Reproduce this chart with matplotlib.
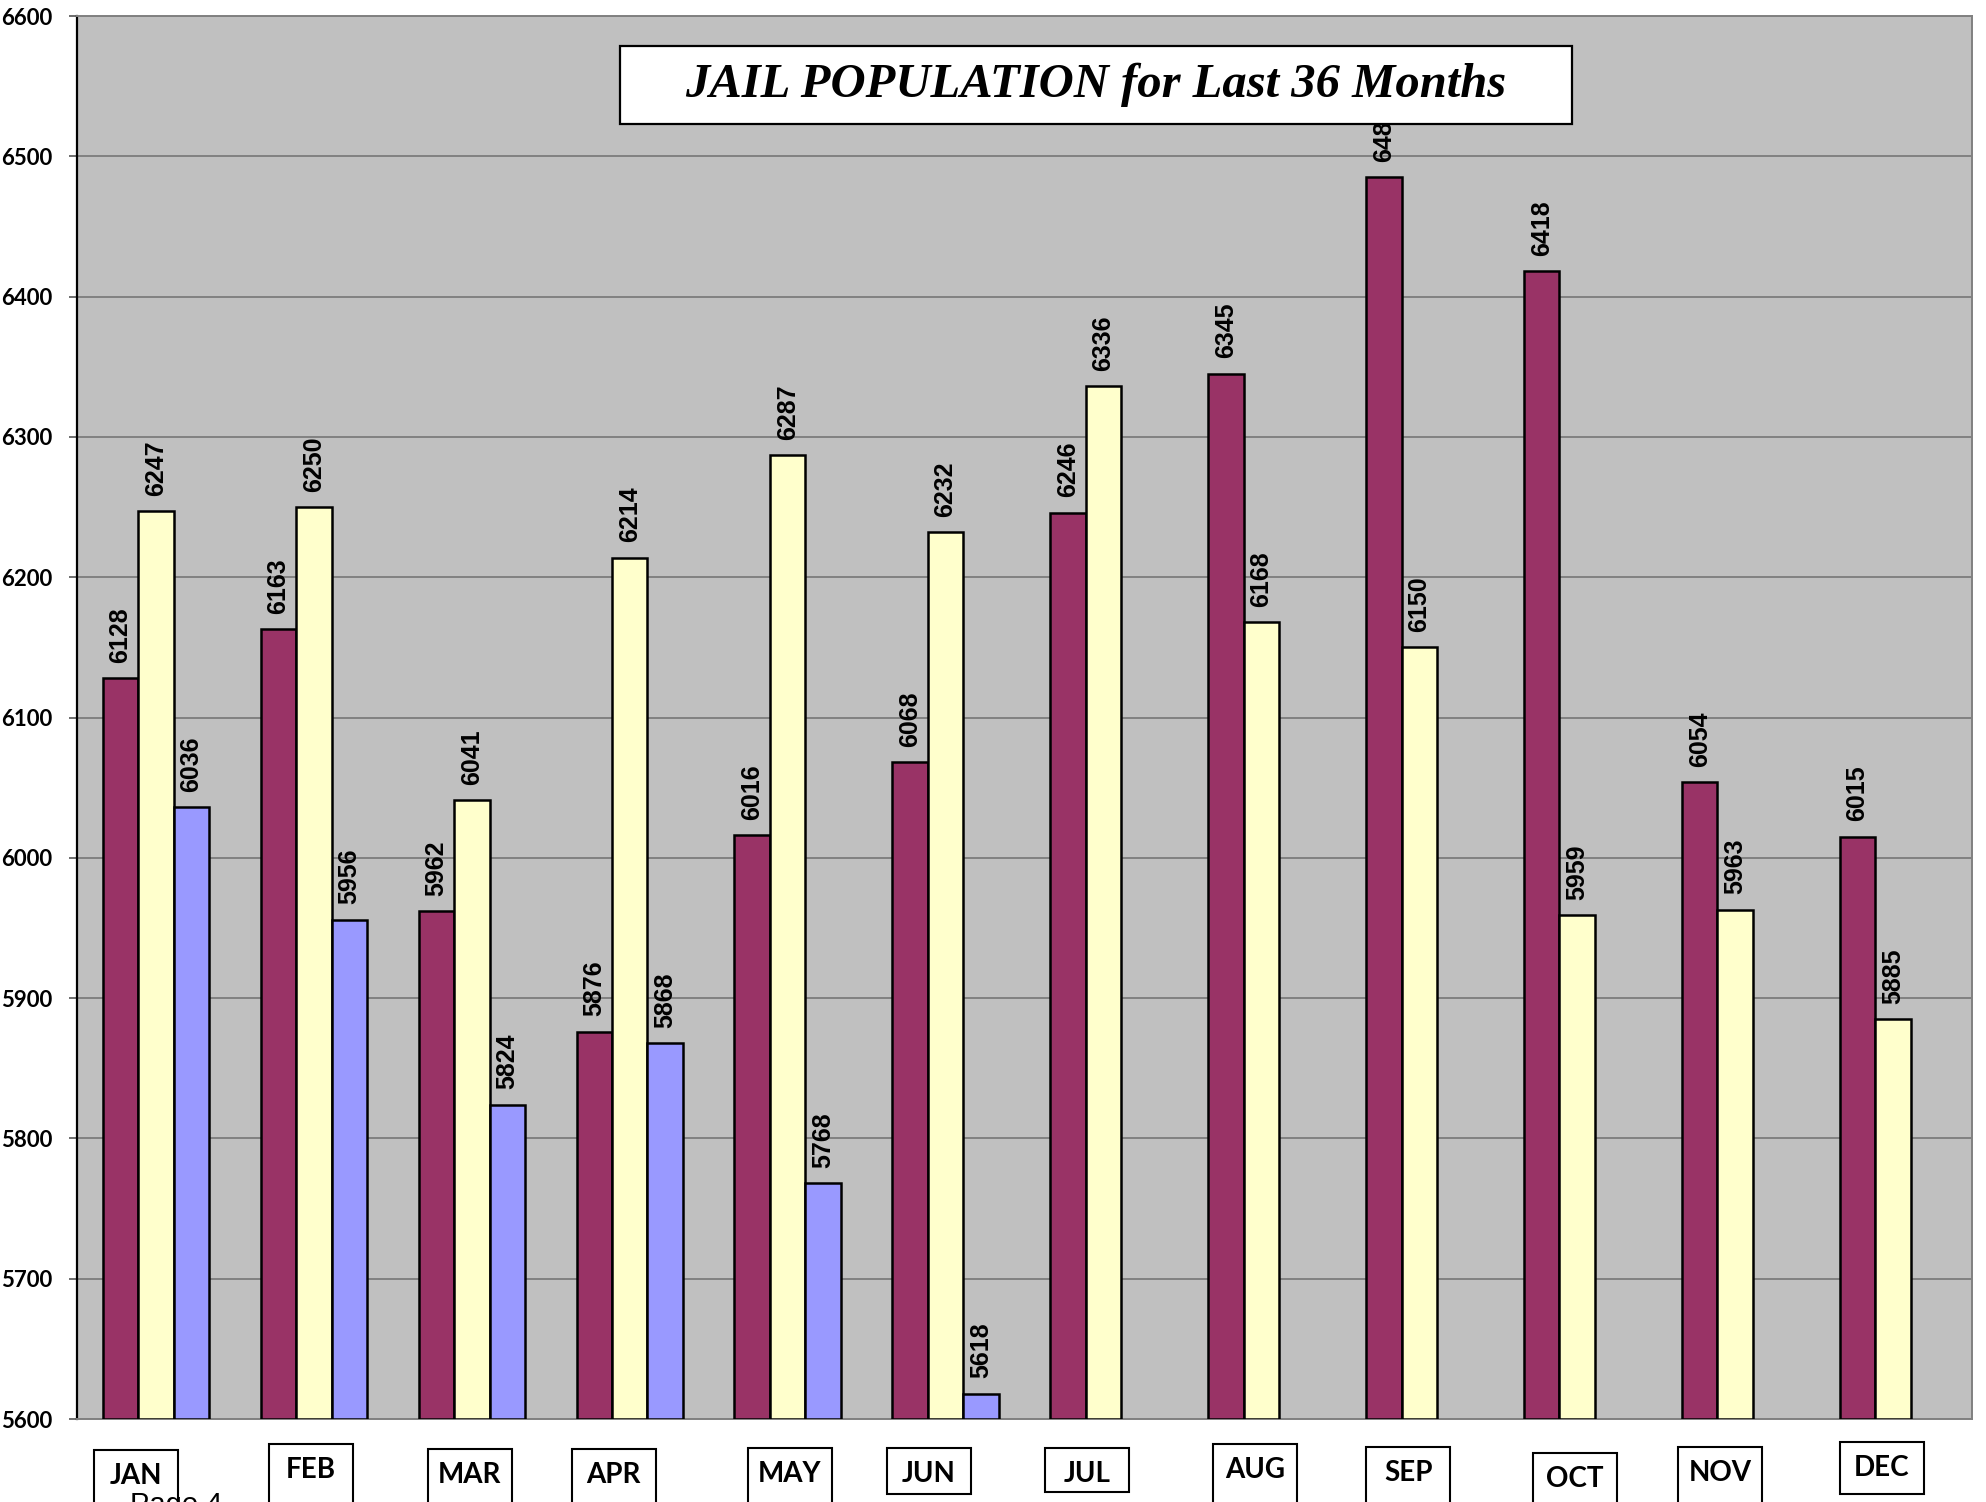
import numpy as np
import matplotlib
matplotlib.use('Agg')
import matplotlib.pyplot as plt
from matplotlib.patches import Rectangle
from matplotlib.transforms import blended_transform_factory

months = ['JAN', 'FEB', 'MAR', 'APR', 'MAY', 'JUN', 'JUL', 'AUG', 'SEP', 'OCT', 'NOV', 'DEC']
year1 = [6128, 6163, 5962, 5876, 6016, 6068, 6246, 6345, 6485, 6418, 6054, 6015]
year2 = [6247, 6250, 6041, 6214, 6287, 6232, 6336, 6168, 6150, 5959, 5963, 5885]
year3 = [6036, 5956, 5824, 5868, 5768, 5618]
yticks = list(range(5600, 6700, 100))

colors = ['#993366', '#FFFFCC', '#9999FF']

W, H = 1986, 1502
fig = plt.figure(figsize=(W / 100, H / 100), dpi=100)
fig.patch.set_facecolor('white')

# axes placement in pixels
ax_l, ax_r, ax_t, ax_b = 77, 1972, 16, 1419
ax = fig.add_axes([ax_l / W, 1 - ax_b / H, (ax_r - ax_l) / W, (ax_b - ax_t) / H])
ax.set_facecolor('#C0C0C0')

x = np.arange(len(months))
bw = 0.2245
series = [year1, year2, year3]
for k, vals in enumerate(series):
    xs = x[:len(vals)] + (k - 1) * bw
    ax.bar(xs, np.array(vals) - 5600, bottom=5600, width=bw, color=colors[k],
           edgecolor='black', linewidth=1.8, zorder=3)
    for xi, v in zip(xs, vals):
        ax.annotate(str(v), (xi, v), xytext=(0, 11), textcoords='offset points',
                    rotation=90, ha='center', va='bottom', fontsize=18,
                    fontweight='bold', family='Liberation Sans', zorder=4)

ax.set_xlim(-0.5, 11.5)
ax.set_ylim(5600, 6600)
ax.set_yticks(yticks)
ax.set_yticklabels([str(t) for t in yticks], fontsize=16, fontweight='bold', family='Lato')
ax.tick_params(axis='y', length=6, width=1.2, color='#555555', pad=12)
ax.set_xticks([])
ax.yaxis.grid(True, color='#707070', linewidth=1.1, zorder=0)
ax.set_axisbelow(True)
for s in ['top', 'right', 'bottom']:
    ax.spines[s].set_color('#808080')
    ax.spines[s].set_linewidth(1.4)
ax.spines['left'].set_color('black')
ax.spines['left'].set_linewidth(1.6)

# title box (drawn over the plot, hides part of SEP label like the original)
def px(xp, yp):
    return xp / W, 1 - yp / H

tb = Rectangle(px(620, 124), (1572 - 620) / W, (124 - 46) / H, transform=fig.transFigure,
               facecolor='white', edgecolor='black', linewidth=1.6, zorder=10)
fig.patches.append(tb)
fig.text(*px(1096, 85), 'JAIL POPULATION for Last 36 Months', ha='center', va='center',
         fontsize=35, fontstyle='italic', fontweight='bold', family='Liberation Serif', zorder=11)

# month label boxes below axis (slightly hand-placed)
dx_px = [-20, -3, -2, -16, 2, -17, -16, -6, -11, -2, -15, -11]
top_px = [1450, 1444, 1449, 1449, 1448, 1448, 1448, 1444, 1447, 1453, 1447, 1442]
bot_px = [1530, 1530, 1530, 1530, 1530, 1494, 1492, 1530, 1530, 1530, 1530, 1494]
cat_px = (ax_r - ax_l) / 12
trans = blended_transform_factory(ax.transData, fig.transFigure)
for i, m in enumerate(months):
    xc = i + dx_px[i] / cat_px
    bw_data = 84 / cat_px
    rect = Rectangle((xc - bw_data / 2, 1 - bot_px[i] / H), bw_data, (bot_px[i] - top_px[i]) / H,
                     transform=trans, facecolor='white', edgecolor='black', linewidth=1.5,
                     clip_on=False, zorder=5)
    ax.add_patch(rect)
    ax.text(xc, 1 - (top_px[i] + 26) / H, m, transform=trans, ha='center', va='center',
            fontsize=20, fontweight='bold', family='Lato', zorder=6)

fig.text(*px(130, 1491), 'Page 4', ha='left', va='top', fontsize=21,
         family='Liberation Sans', zorder=7)

fig.savefig('out.png', dpi=100)
